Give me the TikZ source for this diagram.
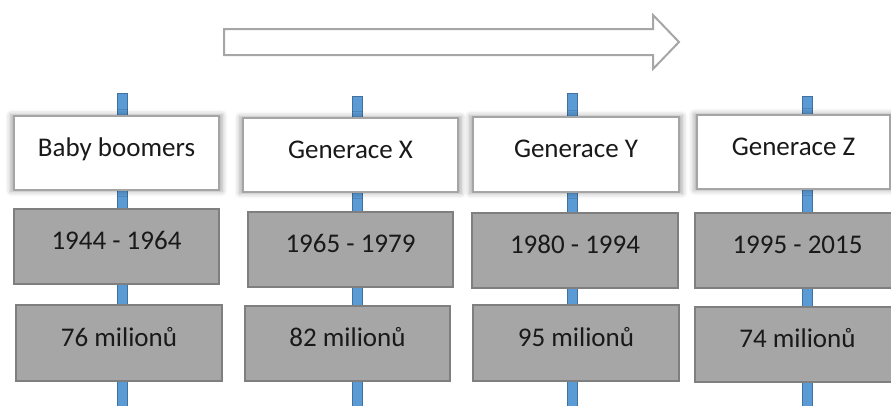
\documentclass[tikz,border=0pt]{standalone}
\usepackage{fontspec}
\setmainfont{Carlito}
\usetikzlibrary{shadows.blur}
\definecolor{barblue}{HTML}{5B9BD5}
\definecolor{bardark}{HTML}{41719C}
\definecolor{boxgrey}{HTML}{A6A6A6}
\definecolor{boxline}{HTML}{7F7F7F}
\definecolor{wline}{HTML}{A5A5A5}
\definecolor{arrline}{HTML}{A6A6A6}
\tikzset{
  base/.style={rectangle, outer sep=0pt, inner sep=0pt, align=center,
    font=\fontsize{27}{30}\selectfont, text=black!90,
    text height=18pt, text depth=12pt},
  whitebox/.style={base, fill=white, draw=wline, line width=1.8pt,
    blur shadow={shadow xshift=0pt, shadow yshift=0pt, shadow blur radius=5pt,
      shadow scale=1.03, shadow opacity=35}},
  greybox/.style={base, fill=boxgrey, draw=boxline, line width=1.5pt},
  barline/.style={fill=barblue, draw=bardark, line width=0.8pt},
  timearrow/.style={draw=arrline, line width=2pt, fill=white, line join=miter}
}
\begin{document}
\begin{tikzpicture}[x=1pt,y=-1pt]
\useasboundingbox (0,0) rectangle (891,405);
% arrow
\draw[timearrow] (224,29) -- (653,29) -- (653,15) -- (679,42) -- (653,69) -- (653,55) -- (224,55) -- cycle;
% bars
\coordinate (t1) at (117,93);  \coordinate (b1) at (127,407);
\coordinate (t2) at (352.5,96); \coordinate (b2) at (362.5,407);
\coordinate (t3) at (567,93);  \coordinate (b3) at (577,407);
\coordinate (t4) at (802,96);  \coordinate (b4) at (812,407);
\foreach \i in {1,2,3,4} { \draw[barline] (t\i) rectangle (b\i); }
% column 1
\node[whitebox, minimum width=205pt, minimum height=74pt] (w1) at (116.5,153) {Baby boomers};
\node[greybox, minimum width=205pt, minimum height=75pt] (g1) at (116.5,246.5) {1944 - 1964};
\node[greybox, minimum width=206pt, minimum height=76pt] (m1) at (119,343) {76 milionů};
% column 2
\node[whitebox, minimum width=215pt, minimum height=74pt] (w2) at (350.5,155) {Generace X};
\node[greybox, minimum width=205pt, minimum height=75pt] (g2) at (350.5,249.5) {1965 - 1979};
\node[greybox, minimum width=205pt, minimum height=75pt] (m2) at (347.5,343.5) {82 milionů};
% column 3
\node[whitebox, minimum width=206pt, minimum height=75pt] (w3) at (576,154.5) {Generace Y};
\node[greybox, minimum width=206pt, minimum height=75pt] (g3) at (575,250.5) {1980 - 1994};
\node[greybox, minimum width=206pt, minimum height=76pt] (m3) at (576,343) {95 milionů};
% column 4
\node[whitebox, minimum width=193pt, minimum height=74pt] (w4) at (793.5,152) {Generace Z};
\node[greybox, minimum width=205pt, minimum height=75pt] (g4) at (797.5,250.5) {1995 - 2015};
\node[greybox, minimum width=205pt, minimum height=75pt] (m4) at (797.5,344.5) {74 milionů};
\end{tikzpicture}
\end{document}
